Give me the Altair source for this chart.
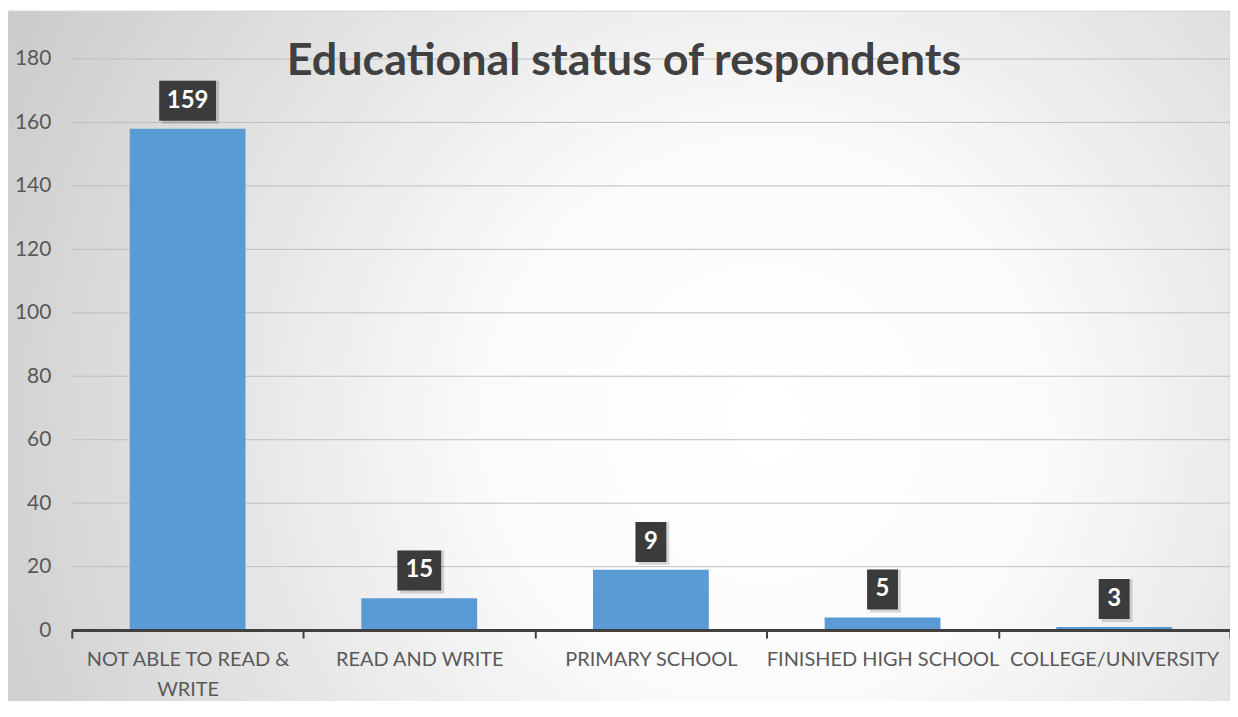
import altair as alt
import pandas as pd

categories = ["NOT ABLE TO READ & WRITE", "READ AND WRITE", "PRIMARY SCHOOL",
              "FINISHED HIGH SCHOOL", "COLLEGE/UNIVERSITY"]
bar_values = [158, 10, 19, 4, 1]
label_values = [159, 15, 9, 5, 3]
title_text = "Educational status of respondents"
y_ticks = [0, 20, 40, 60, 80, 100, 120, 140, 160, 180]

df = pd.DataFrame({"cat": categories, "value": bar_values, "label": label_values})
grid_df = pd.DataFrame({"g": y_ticks})

W, H = 1162, 573
FONT = "Lato"

xenc = alt.X("cat:N", sort=categories, title=None,
             scale=alt.Scale(paddingInner=0, paddingOuter=0),
             axis=alt.Axis(labelAngle=0, labelFont=FONT, labelFontSize=20,
                           labelColor="#595959", labelPadding=12,
                           labelLineHeight=30, labelLimit=400,
                           labelExpr="datum.label == 'NOT ABLE TO READ & WRITE' ? ['NOT ABLE TO READ &', 'WRITE'] : datum.label",
                           domainColor="#404040", domainWidth=3,
                           ticks=True, tickColor="#404040", tickWidth=2, tickSize=8,
                           tickBand="extent", grid=False, zindex=2))
yscale = alt.Scale(domain=[0, 180], nice=False)

gradient = alt.Gradient(
    gradient="radial",
    stops=[alt.GradientStop(offset=0, color="#ffffff"),
           alt.GradientStop(offset=0.3, color="#fbfbfb"),
           alt.GradientStop(offset=1, color="#c6c6c6")],
    x1=0.62, y1=0.55, r1=0, x2=0.62, y2=0.55, r2=0.75,
)

bg = alt.Chart(pd.DataFrame({"a": [0]})).mark_rect(
    fill=gradient, stroke="#d4d4d4", strokeWidth=1
).encode(x=alt.value(-64), x2=alt.value(W), y=alt.value(-48), y2=alt.value(654))

grid = alt.Chart(grid_df).mark_rule(color="#bfbfbf", strokeWidth=1).encode(
    y=alt.Y("g:Q", scale=yscale), x=alt.value(0), x2=alt.value(W)
)

bars = alt.Chart(df).mark_bar(color="#5b9bd5", width=alt.RelativeBandSize(0.5)).encode(
    x=xenc,
    y=alt.Y("value:Q", scale=yscale, title=None,
            axis=alt.Axis(values=y_ticks, labelFont=FONT, labelFontSize=21,
                          labelColor="#595959", labelPadding=21, domain=False,
                          ticks=False, grid=False, zindex=2)),
)

box_base = alt.Chart(df).transform_calculate(
    lo="datum.value + 2.5",
    hi="datum.value + 15.1",
    mid="datum.value + 8.8",
    bw="length(toString(datum.label)) * 13 + 18",
)

shadow = box_base.mark_bar(color="#000000", opacity=0.15, xOffset=3, yOffset=3).encode(
    x=alt.X("cat:N", sort=categories), y=alt.Y("lo:Q", scale=yscale), y2="hi:Q",
    size=alt.Size("bw:Q", scale=None, legend=None),
)
boxes = box_base.mark_bar(color="#3b3b3b").encode(
    x=alt.X("cat:N", sort=categories), y=alt.Y("lo:Q", scale=yscale), y2="hi:Q",
    size=alt.Size("bw:Q", scale=None, legend=None),
)
texts = box_base.mark_text(color="#ffffff", font=FONT, fontWeight="bold", fontSize=24,
                           baseline="middle", align="center").encode(
    x=alt.X("cat:N", sort=categories), y=alt.Y("mid:Q", scale=yscale),
    text="label:Q",
)

title = alt.Chart(pd.DataFrame({"t": [title_text]})).mark_text(
    font=FONT, fontWeight="bold", fontSize=45, color="#404040",
    align="center", baseline="middle"
).encode(x=alt.value(554), y=alt.value(2), text="t:N")

chart = alt.layer(bg, grid, bars, shadow, boxes, texts, title).properties(
    width=W, height=H,
    padding={"left": 64, "top": 50, "right": 0, "bottom": 70},
    autosize=alt.AutoSizeParams(type="none"),
).configure_view(stroke=None).configure(background="#ffffff")

chart.save("out.html", embed_options={"renderer": "svg", "actions": False})
